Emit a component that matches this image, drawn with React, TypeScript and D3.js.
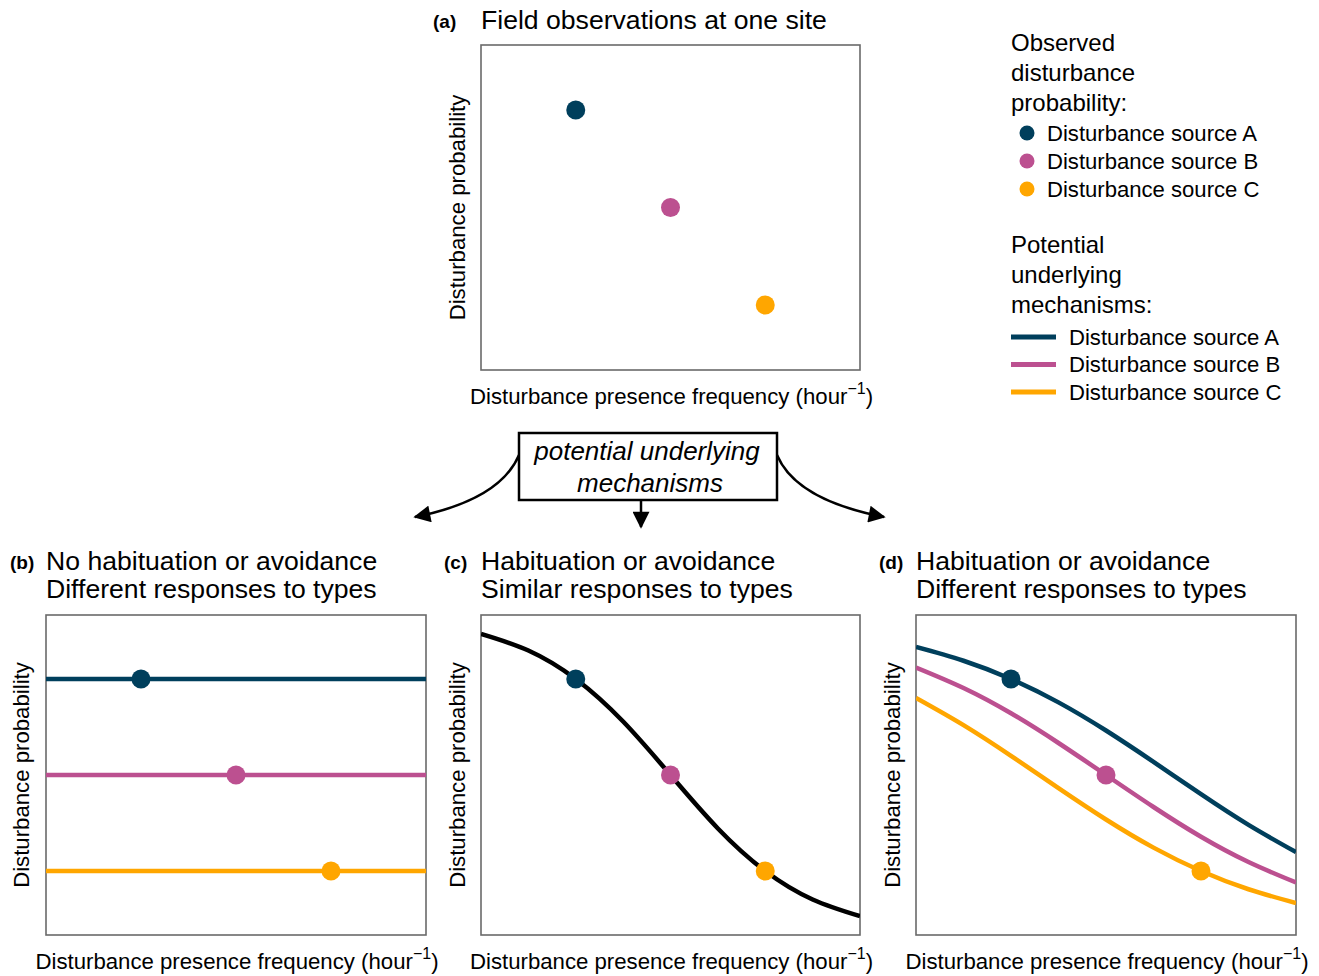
import React from "react";
import * as d3 from "d3";

// ---------- data ----------
const sources = ["Disturbance source A", "Disturbance source B", "Disturbance source C"];
const sourceColors = ["#003f5c", "#bc5090", "#ffa600"];
const obsFreq = [0.25, 0.5, 0.75];
const obsProb = [0.8, 0.5, 0.2];

// curve samples (relative units 0..1)
const curveX = [0, 0.125, 0.25, 0.375, 0.5, 0.625, 0.75, 0.875, 1];
const curveC = [0.941, 0.889, 0.8, 0.667, 0.5, 0.333, 0.2, 0.111, 0.059];
const curveDA = [0.9, 0.857, 0.8, 0.727, 0.639, 0.541, 0.44, 0.344, 0.259];
const curveDB = [0.836, 0.772, 0.693, 0.6, 0.5, 0.4, 0.307, 0.228, 0.164];
const curveDC = [0.741, 0.656, 0.56, 0.459, 0.361, 0.273, 0.2, 0.143, 0.1];

const xLabelMain = "Disturbance presence frequency (hour";
const yLabel = "Disturbance probability";

const FONT = "'Liberation Sans', Arial, sans-serif";

type Box = { x0: number; x1: number; y0: number; y1: number };

function Panel({ box, tag, title, children, xLabelY, yLabelX }: any) {
  const cx = (box.x0 + box.x1) / 2;
  const cy = (box.y0 + box.y1) / 2;
  return (
    <g>
      {title.map((t: string, i: number) => (
        <text key={i} x={box.x0} y={title.baseline + i * 28} fontSize={26.6} fill="#000">
          {t}
        </text>
      ))}
      <text x={tag.x} y={title.baseline - 1} fontSize={19} fontWeight="bold" fill="#000">
        {tag.text}
      </text>
      <rect x={box.x0} y={box.y0} width={box.x1 - box.x0} height={box.y1 - box.y0} fill="#fff" stroke="#6a6a6a" strokeWidth={1.6} />
      <g clipPath={`url(#clip-${tag.id})`}>{children}</g>
      <clipPath id={`clip-${tag.id}`}>
        <rect x={box.x0} y={box.y0} width={box.x1 - box.x0} height={box.y1 - box.y0} />
      </clipPath>
      <text x={cx + 1} y={xLabelY} fontSize={22.2} textAnchor="middle" fill="#000">
        {xLabelMain}
        <tspan fontSize={16} dy={-10}>−1</tspan>
        <tspan dy={10}>)</tspan>
      </text>
      <text
        transform={`translate(${yLabelX},${cy}) rotate(-90)`}
        fontSize={22.2}
        textAnchor="middle"
        dominantBaseline="central"
        fill="#000"
      >
        {yLabel}
      </text>
    </g>
  );
}

function makeScales(box: Box) {
  const x = d3.scaleLinear().domain([0, 1]).range([box.x0, box.x1]);
  const y = d3.scaleLinear().domain([0, 1]).range([box.y1, box.y0]);
  return { x, y };
}

function Points({ s }: any) {
  return (
    <>
      {obsFreq.map((f, i) => (
        <circle key={i} cx={s.x(f)} cy={s.y(obsProb[i])} r={9.5} fill={sourceColors[i]} />
      ))}
    </>
  );
}

export default function App() {
  const boxA: Box = { x0: 481, x1: 860, y0: 45, y1: 370 };
  const boxB: Box = { x0: 46, x1: 426, y0: 615, y1: 935 };
  const boxC: Box = { x0: 481, x1: 860, y0: 615, y1: 935 };
  const boxD: Box = { x0: 916, x1: 1296, y0: 615, y1: 935 };
  const sA = makeScales(boxA);
  const sB = makeScales(boxB);
  const sC = makeScales(boxC);
  const sD = makeScales(boxD);

  const lineGen = (s: any) =>
    d3
      .line<number>()
      .x((_, i) => s.x(curveX[i]))
      .y((v) => s.y(v))
      .curve(d3.curveNatural);

  const dCurves = [curveDA, curveDB, curveDC];

  const titleA: any = ["Field observations at one site"];
  titleA.baseline = 29;
  const titleB: any = ["No habituation or avoidance", "Different responses to types"];
  titleB.baseline = 570;
  const titleC: any = ["Habituation or avoidance", "Similar responses to types"];
  titleC.baseline = 570;
  const titleD: any = ["Habituation or avoidance", "Different responses to types"];
  titleD.baseline = 570;

  return (
    <svg
      width={1319}
      height={976}
      style={{ position: "absolute", left: 0, top: 0, background: "#fff" }}
      fontFamily={FONT}
    >
      <defs>
        <marker id="arrowH" viewBox="0 0 10 10" refX={9} refY={5} markerWidth={19} markerHeight={17} orient="auto" markerUnits="userSpaceOnUse">
          <path d="M0,0 L10,5 L0,10 Z" fill="#000" />
        </marker>
      </defs>
      <rect x={0} y={0} width={1319} height={976} fill="#fff" />

      {/* Panel a */}
      <Panel box={boxA} tag={{ text: "(a)", x: 433, id: "a" }} title={titleA} xLabelY={404} yLabelX={457}>
        <Points s={sA} />
      </Panel>

      {/* Panel b */}
      <Panel box={boxB} tag={{ text: "(b)", x: 10, id: "b" }} title={titleB} xLabelY={969} yLabelX={21}>
        {obsProb.map((p, i) => (
          <line key={i} x1={sB.x(0)} x2={sB.x(1)} y1={sB.y(p)} y2={sB.y(p)} stroke={sourceColors[i]} strokeWidth={4.5} />
        ))}
        <Points s={sB} />
      </Panel>

      {/* Panel c */}
      <Panel box={boxC} tag={{ text: "(c)", x: 444, id: "c" }} title={titleC} xLabelY={969} yLabelX={457}>
        <path d={lineGen(sC)(curveC) || ""} fill="none" stroke="#000" strokeWidth={4.5} />
        <Points s={sC} />
      </Panel>

      {/* Panel d */}
      <Panel box={boxD} tag={{ text: "(d)", x: 879, id: "d" }} title={titleD} xLabelY={969} yLabelX={892}>
        {dCurves.map((c, i) => (
          <path key={i} d={lineGen(sD)(c) || ""} fill="none" stroke={sourceColors[i]} strokeWidth={4.5} />
        ))}
        <Points s={sD} />
      </Panel>

      {/* centre box with arrows */}
      <path d="M519,455 Q500,500 415,517" fill="none" stroke="#000" strokeWidth={2.5} markerEnd="url(#arrowH)" />
      <path d="M777,455 Q796,500 884,517" fill="none" stroke="#000" strokeWidth={2.5} markerEnd="url(#arrowH)" />
      <path d="M641,500 L641,527" fill="none" stroke="#000" strokeWidth={2.5} markerEnd="url(#arrowH)" />
      <rect x={519} y={433} width={258} height={67} fill="#fff" stroke="#000" strokeWidth={2.5} />
      <text x={647} y={460} fontSize={26} fontStyle="italic" textAnchor="middle">potential underlying</text>
      <text x={650} y={492} fontSize={26} fontStyle="italic" textAnchor="middle">mechanisms</text>

      {/* legend */}
      {["Observed", "disturbance", "probability:"].map((t, i) => (
        <text key={t} x={1011} y={51 + i * 30} fontSize={24}>{t}</text>
      ))}
      {sources.map((t, i) => (
        <g key={t}>
          <circle cx={1027} cy={133 + i * 28} r={7.5} fill={sourceColors[i]} />
          <text x={1047} y={133 + i * 28} fontSize={22.1} dominantBaseline="central">{t}</text>
        </g>
      ))}
      {["Potential", "underlying", "mechanisms:"].map((t, i) => (
        <text key={t} x={1011} y={253 + i * 30} fontSize={24}>{t}</text>
      ))}
      {sources.map((t, i) => (
        <g key={t + "l"}>
          <line x1={1011} x2={1056} y1={337 + i * 27.5} y2={337 + i * 27.5} stroke={sourceColors[i]} strokeWidth={5} />
          <text x={1069} y={337 + i * 27.5} fontSize={22.1} dominantBaseline="central">{t}</text>
        </g>
      ))}
    </svg>
  );
}
